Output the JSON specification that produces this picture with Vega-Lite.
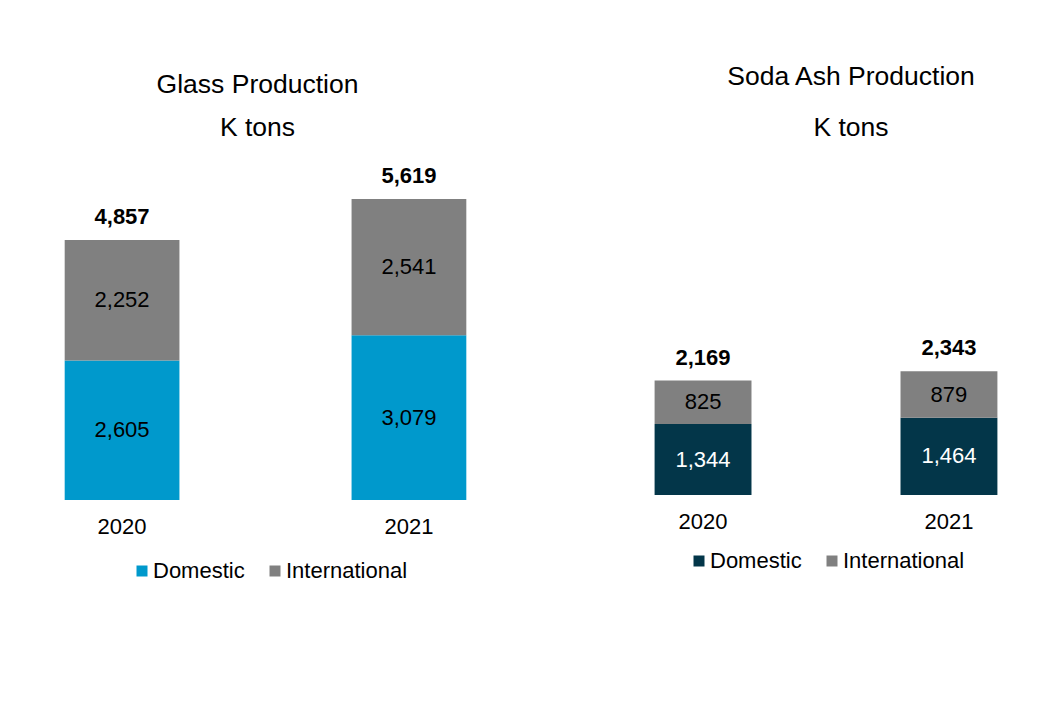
{
  "$schema": "https://vega.github.io/schema/vega-lite/v6.json",
  "background": "white",
  "padding": {"left": 36, "top": 64, "right": 0, "bottom": 0},
  "spacing": 135,
  "resolve": {"scale": {"color": "independent"}, "legend": {"color": "independent"}},
  "config": {
    "view": {"stroke": null},
    "font": "Liberation Sans",
    "axis": {"labelFont": "Liberation Sans"},
    "legend": {"labelFont": "Liberation Sans"},
    "title": {"font": "Liberation Sans", "subtitleFont": "Liberation Sans"}
  },
  "datasets": {
    "glass": [
      {"year": "2020", "type": "Domestic", "value": 2605},
      {"year": "2020", "type": "International", "value": 2252},
      {"year": "2021", "type": "Domestic", "value": 3079},
      {"year": "2021", "type": "International", "value": 2541}
    ],
    "glassTotals": [
      {"year": "2020", "total": 4857},
      {"year": "2021", "total": 5619}
    ],
    "soda": [
      {"year": "2020", "type": "Domestic", "value": 1344},
      {"year": "2020", "type": "International", "value": 825},
      {"year": "2021", "type": "Domestic", "value": 1464},
      {"year": "2021", "type": "International", "value": 879}
    ],
    "sodaTotals": [
      {"year": "2020", "total": 2169},
      {"year": "2021", "total": 2343}
    ]
  },
  "hconcat": [
    {
      "width": 459,
      "height": 348,
      "title": {
        "text": "Glass Production",
        "subtitle": "K tons",
        "fontSize": 26.5,
        "fontWeight": "normal",
        "color": "black",
        "subtitleFontSize": 26.5,
        "subtitleColor": "black",
        "subtitlePadding": 16,
        "offset": 11,
        "dx": -8,
        "anchor": "middle"
      },
      "layer": [
        {
          "data": {"name": "glass"},
          "transform": [
            {"stack": "value", "groupby": ["year"], "sort": [{"field": "type", "order": "ascending"}], "as": ["v0", "v1"]},
            {"calculate": "(datum.v0 + datum.v1) / 2", "as": "mid"}
          ],
          "layer": [
            {
              "mark": {"type": "bar"},
              "encoding": {
                "x": {"field": "year", "type": "nominal", "scale": {"paddingInner": 0.6, "paddingOuter": 0.1},
                      "axis": {"title": null, "labelAngle": 0, "domain": false, "ticks": false, "labelFontSize": 22, "labelPadding": 16, "labelColor": "black"}},
                "y": {"field": "v0", "type": "quantitative", "scale": {"domain": [0, 6500]}, "axis": null},
                "y2": {"field": "v1"},
                "color": {"field": "type", "type": "nominal",
                          "scale": {"domain": ["Domestic", "International"], "range": ["#0099CC", "#808080"]},
                          "legend": {"title": null, "orient": "none", "direction": "horizontal", "legendX": 95, "legendY": 408,
                                     "symbolType": "square", "symbolSize": 121, "symbolStrokeWidth": 0, "labelFontSize": 22, "labelColor": "black",
                                     "labelOffset": 0, "columnPadding": 19}}
              }
            },
            {
              "mark": {"type": "text", "fontSize": 22, "color": "black", "baseline": "middle"},
              "encoding": {
                "x": {"field": "year", "type": "nominal"},
                "y": {"field": "mid", "type": "quantitative"},
                "text": {"field": "value", "type": "quantitative", "format": ","}
              }
            }
          ]
        },
        {
          "data": {"name": "glassTotals"},
          "mark": {"type": "text", "fontSize": 22, "fontWeight": "bold", "color": "black", "baseline": "middle", "dy": -23},
          "encoding": {
            "x": {"field": "year", "type": "nominal"},
            "y": {"field": "total", "type": "quantitative"},
            "text": {"field": "total", "type": "quantitative", "format": ","}
          }
        }
      ]
    },
    {
      "width": 392,
      "height": 343,
      "title": {
        "text": "Soda Ash Production",
        "subtitle": "K tons",
        "fontSize": 26.5,
        "fontWeight": "normal",
        "color": "black",
        "subtitleFontSize": 26.5,
        "subtitleColor": "black",
        "subtitlePadding": 24,
        "offset": 11,
        "dx": 25,
        "anchor": "middle"
      },
      "layer": [
        {
          "data": {"name": "soda"},
          "transform": [
            {"stack": "value", "groupby": ["year"], "sort": [{"field": "type", "order": "ascending"}], "as": ["v0", "v1"]},
            {"calculate": "(datum.v0 + datum.v1) / 2", "as": "mid"}
          ],
          "layer": [
            {
              "mark": {"type": "bar"},
              "encoding": {
                "x": {"field": "year", "type": "nominal", "scale": {"paddingInner": 0.606, "paddingOuter": 0.1},
                      "axis": {"title": null, "labelAngle": 0, "domain": false, "ticks": false, "labelFontSize": 22, "labelPadding": 16, "labelColor": "black"}},
                "y": {"field": "v0", "type": "quantitative", "scale": {"domain": [0, 6260]}, "axis": null},
                "y2": {"field": "v1"},
                "color": {"field": "type", "type": "nominal",
                          "scale": {"domain": ["Domestic", "International"], "range": ["#033649", "#808080"]},
                          "legend": {"title": null, "orient": "none", "direction": "horizontal", "legendX": 58, "legendY": 398,
                                     "symbolType": "square", "symbolSize": 121, "symbolStrokeWidth": 0, "labelFontSize": 22, "labelColor": "black",
                                     "labelOffset": 0, "columnPadding": 19}}
              }
            },
            {
              "mark": {"type": "text", "fontSize": 22, "baseline": "middle"},
              "encoding": {
                "x": {"field": "year", "type": "nominal"},
                "y": {"field": "mid", "type": "quantitative"},
                "text": {"field": "value", "type": "quantitative", "format": ","},
                "color": {"condition": {"test": "datum.type === 'Domestic'", "value": "white"}, "value": "black"}
              }
            }
          ]
        },
        {
          "data": {"name": "sodaTotals"},
          "mark": {"type": "text", "fontSize": 22, "fontWeight": "bold", "color": "black", "baseline": "middle", "dy": -23},
          "encoding": {
            "x": {"field": "year", "type": "nominal"},
            "y": {"field": "total", "type": "quantitative"},
            "text": {"field": "total", "type": "quantitative", "format": ","}
          }
        }
      ]
    }
  ]
}
